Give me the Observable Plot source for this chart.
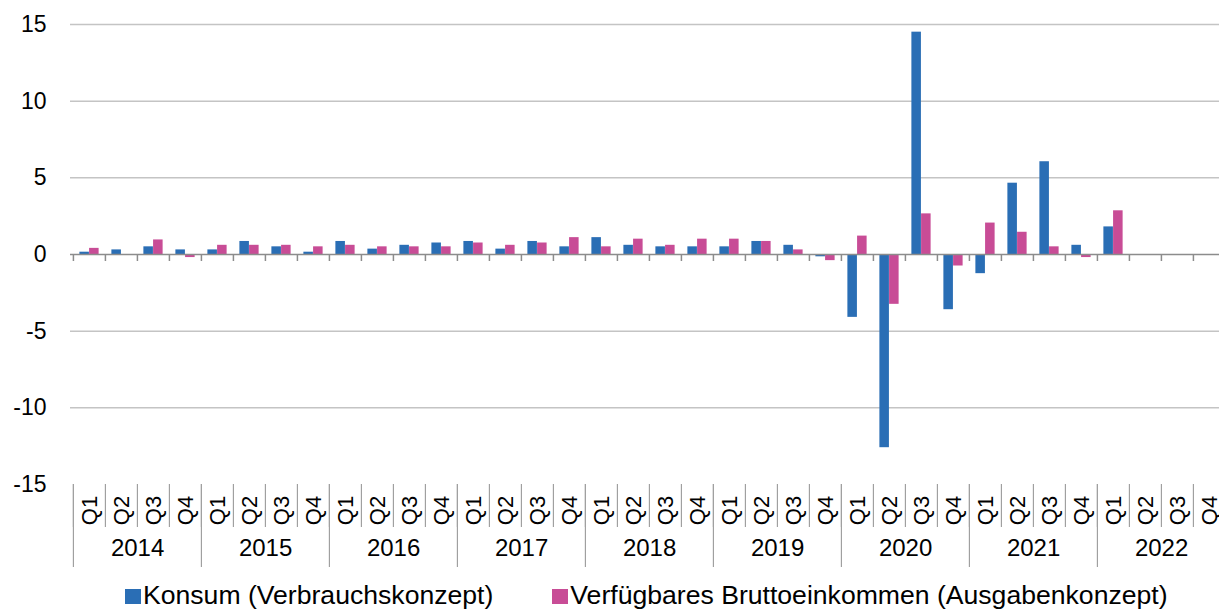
<!DOCTYPE html>
<html>
<head>
<meta charset="utf-8">
<script src="https://cdn.jsdelivr.net/npm/d3@7"></script>
<script src="https://cdn.jsdelivr.net/npm/@observablehq/plot@0.6"></script>
<style>
  html, body { margin: 0; padding: 0; background: white; overflow: hidden; }
  #chart { width: 1219px; height: 610px; position: relative; font-family: "Liberation Sans", Arial, sans-serif; }
  .legend { display: flex; gap: 59px; padding-left: 125px; height: 30px; line-height: 30px; font-size: 26.6px; color: #000; }
  .legend span.item { display: inline-flex; align-items: center; white-space: nowrap; }
  .legend span.sw { display: inline-block; width: 16px; height: 15px; margin-right: 2px; position: relative; top: 1px; }
</style>
</head>
<body>
<div id="chart"></div>
<script>
// ---- Data ----
const years = [2014, 2015, 2016, 2017, 2018, 2019, 2020, 2021, 2022];
const quarters = ["Q1", "Q2", "Q3", "Q4"];
const seriesNames = ["Konsum (Verbrauchskonzept)", "Verfügbares Bruttoeinkommen (Ausgabenkonzept)"];
// Konsum (Verbrauchskonzept), % change vs previous quarter
const konsum = [
  0.15, 0.3, 0.5, 0.3,
  0.3, 0.85, 0.5, 0.15,
  0.85, 0.35, 0.6, 0.75,
  0.85, 0.35, 0.85, 0.5,
  1.1, 0.6, 0.5, 0.5,
  0.5, 0.85, 0.6, -0.15,
  -4.1, -12.6, 14.5, -3.6,
  -1.25, 4.65, 6.05, 0.6,
  1.8, null, null, null
];
// Verfügbares Bruttoeinkommen (Ausgabenkonzept)
const einkommen = [
  0.4, 0, 0.95, -0.2,
  0.6, 0.6, 0.6, 0.5,
  0.6, 0.5, 0.5, 0.5,
  0.75, 0.6, 0.75, 1.1,
  0.5, 1.0, 0.6, 1.0,
  1.0, 0.85, 0.3, -0.4,
  1.2, -3.25, 2.65, -0.75,
  2.05, 1.45, 0.5, -0.2,
  2.85, null, null, null
];
const yTicks = [-15, -10, -5, 0, 5, 10, 15];
const colors = ["#2a6eb5", "#c84c96"];

// ---- Build table ----
const rows = [];
years.forEach((yr, yi) => quarters.forEach((q, qi) => {
  const i = yi * 4 + qi;
  rows.push({key: `${yr}-${q}`, year: String(yr), quarter: q, konsum: konsum[i], einkommen: einkommen[i]});
}));
const keys = rows.map(d => d.key);
const yearRows = years.map(yr => ({key: `${yr}-Q2`, year: String(yr)}));

const x0 = 70, x1 = 1228;
const step = (x1 - x0) / keys.length;
const half = step / 2;
const barW = 9.7;

const plot = Plot.plot({
  width: 1219,
  height: 580,
  marginLeft: 70,
  marginRight: 0,
  marginTop: 24,
  marginBottom: 96,
  style: {fontFamily: "'Liberation Sans', Arial, sans-serif", color: "#000", background: "white", overflow: "hidden"},
  x: {type: "band", domain: keys, range: [x0, x1], padding: 0, axis: null},
  y: {domain: [-15, 15], label: null},
  marks: [
    Plot.ruleY(yTicks.filter(t => t !== 0 && t !== -15), {stroke: "#c4c4c4", strokeWidth: 1.5}),
    Plot.barY(rows.filter(d => d.konsum != null), {x: "key", y: "konsum", fill: colors[0], insetLeft: half - barW, insetRight: half}),
    Plot.barY(rows.filter(d => d.einkommen != null), {x: "key", y: "einkommen", fill: colors[1], insetLeft: half, insetRight: half - barW}),
    Plot.ruleY([0], {stroke: "#8c8c8c", strokeWidth: 1.5}),
    Plot.ruleX(rows, {x: "key", dx: -half, y1: 0, y2: 0, insetBottom: -7, stroke: "#8c8c8c", strokeWidth: 1.5}),
    Plot.ruleX(rows, {x: "key", dx: -half, y1: -15, y2: -15, insetBottom: -43, stroke: "#a0a0a0", strokeWidth: 1.2}),
    Plot.ruleX(rows.filter(d => d.quarter === "Q1"), {x: "key", dx: -half, y1: -15, y2: -15, insetBottom: -83, stroke: "#a0a0a0", strokeWidth: 1.2}),
    Plot.text(rows, {x: "key", y: -15, dy: 26, text: "quarter", rotate: -90, fontSize: 22, fill: "#000"}),
    Plot.text(yearRows, {x: "key", y: -15, dx: half, dy: 64, text: "year", fontSize: 24, fill: "#000"}),
    Plot.axisY({ticks: yTicks, tickSize: 0, tickPadding: 24, fontSize: 23, tickFormat: d => String(d), label: null})
  ]
});

const chart = document.getElementById("chart");
chart.appendChild(plot);

const legend = document.createElement("div");
legend.className = "legend";
seriesNames.forEach((name, i) => {
  const item = document.createElement("span");
  item.className = "item";
  const sw = document.createElement("span");
  sw.className = "sw";
  sw.style.background = colors[i];
  item.appendChild(sw);
  item.appendChild(document.createTextNode(name));
  legend.appendChild(item);
});
chart.appendChild(legend);
</script>
</body>
</html>
